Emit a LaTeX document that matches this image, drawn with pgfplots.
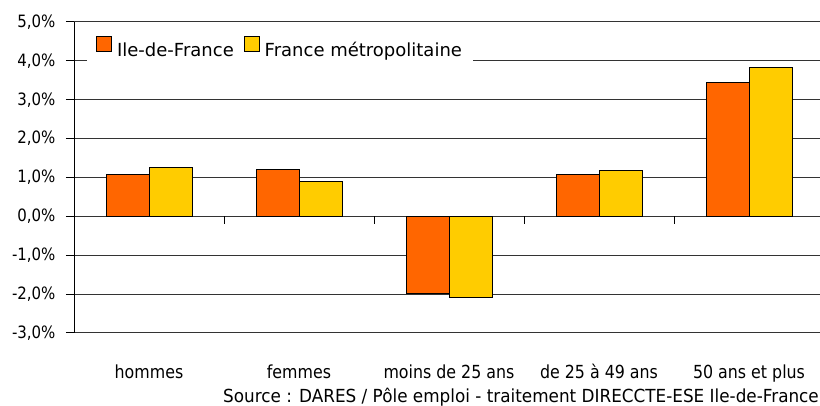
\documentclass[border=0pt]{standalone}
\usepackage{pgfplots}
\pgfplotsset{compat=1.18}
\usepackage{fontspec}
\setmainfont{DejaVu Sans}[FakeStretch=0.88]
\newfontfamily\legfont{DejaVu Sans}
\newfontfamily\srcfont{DejaVu Sans}[FakeStretch=0.935]
\definecolor{idf}{HTML}{FF6600}
\definecolor{fm}{HTML}{FFCC00}
\begin{document}
\begin{tikzpicture}[x=1pt,y=1pt]
\path[use as bounding box] (0,0) rectangle (820,406);
\clip (0,0) rectangle (820,406);
\begin{axis}[
  at={(74pt,73pt)}, anchor=south west,
  scale only axis, width=750pt, height=311pt,
  xmin=-0.5, xmax=4.5, ymin=-3, ymax=5,
  axis lines*=left,
  axis line style={-},
  x axis line style={draw=none},
  y axis line style={black, line width=1pt},
  ybar=0pt, bar width=43pt,
  xtick={0,1,2,3,4},
  xticklabels={hommes,femmes,moins de 25 ans,de 25 à 49 ans,50 ans et plus},
  xtick style={draw=none},
  xticklabel style={font=\fontsize{18pt}{20pt}\selectfont, anchor=base, yshift=-38pt},
  ytick={-3,-2,-1,0,1,2,3,4,5},
  yticklabels={{-3,0\%},{-2,0\%},{-1,0\%},{0,0\%},{1,0\%},{2,0\%},{3,0\%},{4,0\%},{5,0\%}},
  yticklabel style={font=\fontsize{17pt}{19pt}\selectfont, anchor=east, xshift=-7pt},
  tick align=outside,
  ytick style={black, line width=1pt},
  major tick length=8pt,
  ymajorgrids,
  grid style={black!80, line width=1pt},
  legend style={at={(0.0173,0.916)}, anchor=west, draw=none, fill=white,
    legend columns=2, font=\fontsize{18pt}{20pt}\legfont,
    inner xsep=9pt, inner ysep=5pt,
    /tikz/every odd column/.append style={column sep=3pt},
    /tikz/every even column/.append style={column sep=8pt}},
  legend image code/.code={\draw[#1,draw=black,line width=0.9pt] (0pt,-1pt) rectangle (15pt,14pt);},
  clip=false,
]
\addplot[fill=idf, draw=black, line width=1pt] coordinates {(0,1.08) (1,1.21) (2,-1.98) (3,1.08) (4,3.45)};
\addplot[fill=fm, draw=black, line width=1pt] coordinates {(0,1.26) (1,0.90) (2,-2.08) (3,1.18) (4,3.82)};
\legend{Ile-de-France, France métropolitaine}
\draw[black, line width=1pt] (axis cs:0.5,0) -- ([yshift=-8pt]axis cs:0.5,0);
\draw[black, line width=1pt] (axis cs:1.5,0) -- ([yshift=-8pt]axis cs:1.5,0);
\draw[black, line width=1pt] (axis cs:2.5,0) -- ([yshift=-8pt]axis cs:2.5,0);
\draw[black, line width=1pt] (axis cs:3.5,0) -- ([yshift=-8pt]axis cs:3.5,0);
\end{axis}
\node[anchor=base east, inner sep=0pt, font=\fontsize{18pt}{20pt}\srcfont] at (819,3) {Source : DARES / Pôle emploi - traitement DIRECCTE-ESE Ile-de-France};
\end{tikzpicture}
\end{document}
